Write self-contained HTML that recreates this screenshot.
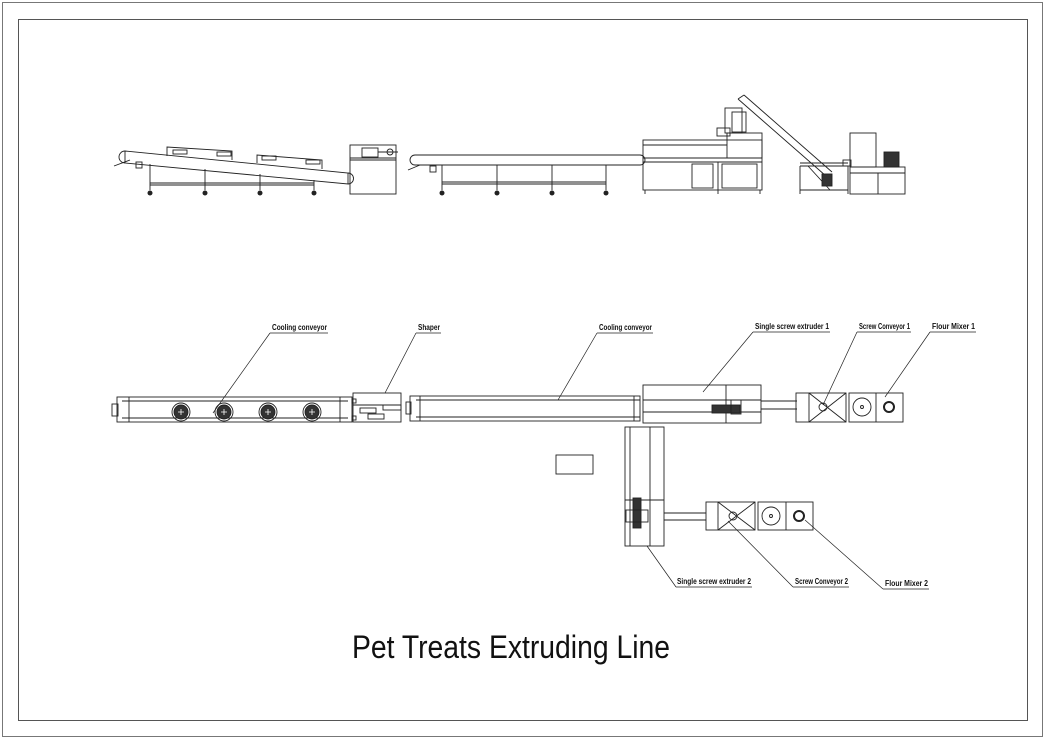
<!DOCTYPE html>
<html><head><meta charset="utf-8"><style>
html,body{margin:0;padding:0;background:#fff;}
svg{display:block}
text{font-family:"Liberation Sans",sans-serif;}
.l{font-size:8px;font-weight:bold;}
</style></head><body>
<svg width="1046" height="739" viewBox="0 0 1046 739" xmlns="http://www.w3.org/2000/svg">
<rect x="0" y="0" width="1046" height="739" fill="#fff"/>
<rect x="2.5" y="2.5" width="1040" height="734" fill="none" stroke="#777" stroke-width="1"/>
<rect x="18.5" y="19.5" width="1009" height="701" fill="none" stroke="#555" stroke-width="1"/>
<g fill="none" stroke="#222" stroke-width="0.9">
<path d="M125 151 L348 173 L348 184 L125 163 Z"/>
<path d="M125 151 A6 6 0 0 0 125 163"/>
<path d="M348 173 A5 5 0 0 1 348 184"/>
<path d="M114 166 L130 160"/>
<rect x="136" y="162" width="6" height="6"/>
<path d="M167 156 L167 147 L232 151 L232 160"/><rect x="173" y="150" width="14" height="4"/><rect x="217" y="152" width="14" height="4"/>
<path d="M257 163 L257 155 L322 160 L322 169"/><rect x="262" y="156" width="14" height="4"/><rect x="306" y="160" width="14" height="4"/>
<path d="M150 164 V190 M205 169 V190 M260 174 V190 M314 180 V190 M150 183 H314 M150 185 H314"/>
<rect x="350" y="145" width="46" height="49"/><path d="M350 158 H396 M350 160 H396"/>
<rect x="362" y="148" width="16" height="9"/><path d="M378 152 H398"/><circle cx="390" cy="152" r="3"/>
<path d="M415 155 H640 M415 165 H640"/><path d="M415 155 A5 5 0 0 0 415 165"/><path d="M640 155 A5 5 0 0 1 640 165"/>
<path d="M408 170 L420 165"/><rect x="430" y="166" width="6" height="6"/>
<path d="M442 165 V190 M497 165 V190 M552 165 V190 M606 165 V190 M442 182 H606 M442 184 H606"/>
<rect x="643" y="140" width="119" height="50"/>
<path d="M643 145 H727 M643 158 H762 M643 162 H762 M718 162 V190"/>
<rect x="692" y="164" width="21" height="24"/><rect x="722" y="164" width="35" height="24"/>
<rect x="727" y="133" width="35" height="25"/>
<rect x="725" y="108" width="17" height="25"/><rect x="732" y="112" width="14" height="20"/>
<rect x="717" y="128" width="13" height="8"/>
<path d="M645 190 V194 M718 190 V194 M760 190 V194"/>
<path d="M738 99 L826 176 M744 95 L832 172 M738 99 L744 95"/>
<path d="M800 163 H848 M800 166 H848 M800 166 V194 M848 166 V194 M800 190 H848 M808 166 L830 190"/>
<rect x="822" y="174" width="10" height="12" fill="#333"/>
<rect x="850" y="167" width="55" height="27"/><path d="M850 173 H905 M878 173 V194"/>
<rect x="850" y="133" width="26" height="34"/>
<rect x="843" y="160" width="8" height="6"/>
<rect x="884" y="152" width="15" height="15" fill="#333"/>
<rect x="117" y="397" width="235" height="25"/>
<path d="M122 401 H348 M122 418 H348 M129 397 V422 M340 397 V422"/>
<rect x="112" y="404" width="6" height="12"/><rect x="352" y="399" width="4" height="4"/><rect x="352" y="416" width="4" height="4"/>
<g><circle cx="181" cy="412" r="9"/><circle cx="224" cy="412" r="9"/><circle cx="268" cy="412" r="9"/><circle cx="312" cy="412" r="9"/></g>
<g fill="#333" stroke="#222"><circle cx="181" cy="412" r="7"/><circle cx="224" cy="412" r="7"/><circle cx="268" cy="412" r="7"/><circle cx="312" cy="412" r="7"/></g>
<g stroke="#fff" stroke-width="0.8"><path d="M178 412H184M181 409V415M221 412H227M224 409V415M265 412H271M268 409V415M309 412H315M312 409V415"/></g>
<rect x="353" y="393" width="48" height="29"/><path d="M353 405 H401"/>
<rect x="360" y="408" width="16" height="5"/><rect x="383" y="405" width="18" height="5"/><rect x="368" y="414" width="16" height="5"/>
<rect x="410" y="396" width="230" height="25"/><path d="M416 400 H640 M416 417 H640 M420 396 V421 M634 396 V421"/>
<rect x="406" y="402" width="5" height="12"/>
<rect x="643" y="385" width="118" height="38"/><path d="M643 400 H761 M643 412 H761 M726 385 V423"/>
<rect x="712" y="405" width="28" height="8" fill="#333"/><rect x="731" y="400" width="10" height="14"/>
<path d="M761 401 H797 M761 409 H797"/>
<rect x="796" y="393" width="50" height="29"/><path d="M809 393 V422 M809 393 L846 422 M846 393 L809 422"/><circle cx="823" cy="407" r="4"/>
<rect x="849" y="393" width="54" height="29"/><path d="M876 393 V422"/><circle cx="862" cy="407" r="9"/><circle cx="862" cy="407" r="1.5"/><circle cx="889" cy="407" r="5" stroke-width="2"/>
<rect x="625" y="427" width="39" height="119"/><path d="M630 427 V546 M650 427 V546 M625 500 H664"/>
<rect x="633" y="498" width="8" height="30" fill="#333"/><rect x="626" y="510" width="22" height="12"/>
<path d="M664 513 H706 M664 520 H706"/>
<rect x="706" y="502" width="49" height="28"/><path d="M718 502 V530 M718 502 L755 530 M755 502 L718 530"/><circle cx="733" cy="516" r="4"/>
<rect x="758" y="502" width="55" height="28"/><path d="M786 502 V530"/><circle cx="771" cy="516" r="9"/><circle cx="771" cy="516" r="1.5"/><circle cx="799" cy="516" r="5" stroke-width="2"/>
<rect x="556" y="455" width="37" height="19"/>
</g>
<g fill="#222"><circle cx="150" cy="193" r="2.5"/><circle cx="205" cy="193" r="2.5"/><circle cx="260" cy="193" r="2.5"/><circle cx="314" cy="193" r="2.5"/>
<circle cx="442" cy="193" r="2.5"/><circle cx="497" cy="193" r="2.5"/><circle cx="552" cy="193" r="2.5"/><circle cx="606" cy="193" r="2.5"/></g>
<g stroke="#222" stroke-width="0.7" fill="none">
<path d="M270 333 H328 M270 333 L213 413"/>
<path d="M416 333 H441 M416 333 L385 393"/>
<path d="M597 333 H653 M597 333 L558 400"/>
<path d="M753 332 H830 M753 332 L703 392"/>
<path d="M857 332 H911 M857 332 L823 405"/>
<path d="M930 332 H976 M930 332 L885 397"/>
<path d="M676 587 H752 M676 587 L647 546"/>
<path d="M793 587 H849 M793 587 L728 521"/>
<path d="M883 589 H929 M883 589 L805 520"/>
</g>
<g fill="#111">
<text class="l" x="272" y="330" textLength="55" lengthAdjust="spacingAndGlyphs">Cooling conveyor</text>
<text class="l" x="418" y="330" textLength="22" lengthAdjust="spacingAndGlyphs">Shaper</text>
<text class="l" x="599" y="330" textLength="53" lengthAdjust="spacingAndGlyphs">Cooling conveyor</text>
<text class="l" x="755" y="329" textLength="74" lengthAdjust="spacingAndGlyphs">Single screw extruder 1</text>
<text class="l" x="859" y="329" textLength="51" lengthAdjust="spacingAndGlyphs">Screw Conveyor 1</text>
<text class="l" x="932" y="329" textLength="43" lengthAdjust="spacingAndGlyphs">Flour Mixer 1</text>
<text class="l" x="677" y="584" textLength="74" lengthAdjust="spacingAndGlyphs">Single screw extruder 2</text>
<text class="l" x="795" y="584" textLength="53" lengthAdjust="spacingAndGlyphs">Screw Conveyor 2</text>
<text class="l" x="885" y="586" textLength="43" lengthAdjust="spacingAndGlyphs">Flour Mixer 2</text>
<text x="352" y="658" font-size="32" textLength="318" lengthAdjust="spacingAndGlyphs" style="font-family:'Liberation Sans',sans-serif">Pet Treats Extruding Line</text>
</g>
</svg>
</body></html>
